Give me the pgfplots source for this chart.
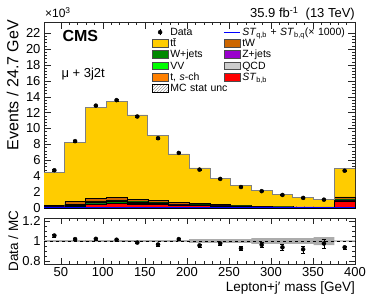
\documentclass[border=0pt]{standalone}
\usepackage{fontspec}
\setmainfont{Liberation Sans}
\usepackage{pgfplots}
\pgfplotsset{compat=1.18}
\usepackage{pgfplotstable}
\usepgfplotslibrary{fillbetween}
\usetikzlibrary{patterns}

\definecolor{ttc}{RGB}{255,204,0}
\definecolor{wjc}{RGB}{0,136,0}
\definecolor{vvc}{RGB}{0,255,0}
\definecolor{tsc}{RGB}{255,128,0}
\definecolor{twc}{RGB}{204,102,0}
\definecolor{zjc}{RGB}{153,0,204}
\definecolor{qcdc}{RGB}{204,204,204}
\definecolor{stbc}{RGB}{255,0,0}

% MC stack (thousands of events), bin left edges; last row repeats last bin
\pgfplotstableread{
x       stbb zj   wj   vv   ts    tw   tt     sig
30.000  0.10 0.03 0.05 0.01 0.01  0.15 4.15   0.04
54.667  0.25 0.05 0.15 0.03 0.03  0.30 7.44   0.06
79.333  0.45 0.06 0.25 0.05 0.04  0.40 11.35  0.08
104.000 0.55 0.06 0.28 0.05 0.04  0.35 12.07  0.08
128.667 0.50 0.05 0.20 0.04 0.03  0.30 10.58  0.07
153.333 0.45 0.04 0.18 0.03 0.03  0.25 8.12   0.06
178.000 0.35 0.03 0.10 0.02 0.02  0.20 6.08   0.05
202.667 0.30 0.03 0.08 0.02 0.02  0.15 4.45   0.04
227.333 0.25 0.02 0.05 0.01 0.01  0.12 3.29   0.03
252.000 0.20 0.02 0.04 0.01 0.01  0.08 2.49   0.03
276.667 0.12 0.02 0.03 0.01 0.01  0.06 1.95   0.02
301.333 0.10 0.01 0.03 0.01 0.01  0.05 1.54   0.02
326.000 0.08 0.01 0.02 0.01 0.005 0.04 1.215  0.02
350.667 0.06 0.01 0.02 0.01 0.005 0.03 0.945  0.01
375.333 0.85 0.05 0.12 0.02 0.02  0.35 3.59   0.05
400.000 0.85 0.05 0.12 0.02 0.02  0.35 3.59   0.05
}\mc

% total MC and stat band in ratio
\pgfplotstableread{
x       tot   lo    hi
30.000  4.50  0.992 1.008
54.667  8.25  0.992 1.008
79.333  12.60 0.992 1.008
104.000 13.40 0.992 1.008
128.667 11.70 0.992 1.008
153.333 9.10  0.992 1.008
178.000 6.80  0.992 1.008
202.667 5.05  0.982 1.018
227.333 3.75  0.982 1.018
252.000 2.85  0.982 1.018
276.667 2.20  0.972 1.028
301.333 1.75  0.972 1.028
326.000 1.38  0.972 1.028
350.667 1.08  0.960 1.040
375.333 5.00  0.994 1.006
400.000 5.00  0.994 1.006
}\tot

% data at bin centres
\pgfplotstableread{
x      d     de    r     re
42.33  4.75  0.07  1.055 0.012
67.00  8.41  0.09  1.019 0.012
91.67  12.88 0.11  1.022 0.010
116.33 13.57 0.12  1.013 0.010
141.00 11.51 0.11  0.984 0.010
165.67 8.78  0.09  0.965 0.012
190.33 6.93  0.08  1.019 0.013
215.00 4.83  0.07  0.956 0.015
239.67 3.66  0.06  0.975 0.017
264.33 2.64  0.05  0.927 0.020
289.00 2.12  0.05  0.962 0.024
313.67 1.64  0.04  0.937 0.030
338.33 1.27  0.04  0.917 0.035
363.00 1.05  0.03  0.975 0.045
387.67 4.69  0.07  0.937 0.015
}\dat

\begin{document}
\begin{tikzpicture}
\pgfplotsset{
  /pgf/number format/assume math mode=true,
  common/.style={
    width=311bp, scale only axis, xmin=30, xmax=400,
    tick align=inside, xtick pos=both, ytick pos=both,
    xtick={50,100,...,400}, minor x tick num=4,
    major tick length=7bp, minor tick length=3.5bp,
    tick label style={font=\fontsize{13bp}{15bp}\selectfont},
    label style={font=\fontsize{13.5bp}{15bp}\selectfont},
    axis line style={black!85}, every tick/.style={black!85},
  },
  boxleg/.style={legend image code/.code={\draw[##1] (0bp,-3.3bp) rectangle (16bp,4.4bp);}},
}
\begin{axis}[common, name=main, height=186bp, clip=false,
  ymin=0, ymax=23.4, ytick={0,2,...,22}, minor y tick num=4,
  xticklabels={}, stack plots=y,
  legend columns=2, legend cell align=left,
  legend style={at={(axis description cs:0.347,0.978)}, anchor=north west, draw=none, fill=none,
    inner sep=0pt, outer sep=0pt, row sep=-1.5bp, column sep=0pt,
    font=\fontsize{10.5bp}{12bp}\selectfont,
    /tikz/column 2/.style={text width=51bp, text height=7.3bp, text depth=1.7bp},
    /tikz/column 4/.style={text width=90bp, text height=7.3bp, text depth=1.7bp}},
]
\addplot[const plot mark left, fill=stbc, draw=black, line width=0.3bp, forget plot] table[x=x,y=stbb]{\mc} \closedcycle;
\addplot[const plot mark left, fill=zjc, draw=black, line width=0.3bp, forget plot] table[x=x,y=zj]{\mc} \closedcycle;
\addplot[const plot mark left, fill=wjc, draw=black, line width=0.3bp, forget plot] table[x=x,y=wj]{\mc} \closedcycle;
\addplot[const plot mark left, fill=vvc, draw=black, line width=0.3bp, forget plot] table[x=x,y=vv]{\mc} \closedcycle;
\addplot[const plot mark left, fill=tsc, draw=black, line width=0.3bp, forget plot] table[x=x,y=ts]{\mc} \closedcycle;
\addplot[const plot mark left, fill=twc, draw=black, line width=0.3bp, forget plot] table[x=x,y=tw]{\mc} \closedcycle;
\addplot[const plot mark left, fill=ttc, draw=none, forget plot] table[x=x,y=tt]{\mc} \closedcycle;

\addlegendimage{legend image code/.code={\fill[black] (8bp,0.3bp) circle (2bp); \draw[black] (8bp,-3bp)--(8bp,3.6bp);}}
\addlegendentry{Data}
\addlegendimage{legend image code/.code={\draw[blue, line width=1bp] (0bp,0.3bp)--(16bp,0.3bp);}}
\addlegendentry{\mbox{\textit{ST}\textsubscript{q,b} + \textit{ST}\textsubscript{b,q}(× 1000)}}
\addlegendimage{boxleg, fill=ttc, draw=black!70}
\addlegendentry{t\={t}}
\addlegendimage{boxleg, fill=twc, draw=black!70}
\addlegendentry{tW}
\addlegendimage{boxleg, fill=wjc, draw=black!70}
\addlegendentry{W+jets}
\addlegendimage{boxleg, fill=zjc, draw=black!70}
\addlegendentry{Z+jets}
\addlegendimage{boxleg, fill=vvc, draw=black!70}
\addlegendentry{VV}
\addlegendimage{boxleg, fill=qcdc, draw=black!70}
\addlegendentry{QCD}
\addlegendimage{boxleg, fill=tsc, draw=black!70}
\addlegendentry{t, \textit{s}-ch}
\addlegendimage{boxleg, fill=stbc, draw=black!70}
\addlegendentry{\textit{ST}\textsubscript{b,b}}
\addlegendimage{boxleg, pattern=north east lines, pattern color=gray, draw=none}
\addlegendentry{\mbox{MC stat unc}}

\node[anchor=base west, font=\bfseries\fontsize{16bp}{18bp}\selectfont] at (axis description cs:0.0482,0.894) {CMS};
\node[anchor=base west, font=\fontsize{13bp}{15bp}\selectfont] at (axis description cs:0.045,0.700) {μ + 3j2t};
\node[anchor=base west, font=\fontsize{12bp}{14bp}\selectfont, inner sep=0pt] at (axis description cs:0.003,1.022) {×10\textsuperscript{3}};
\node[anchor=base east, font=\fontsize{13bp}{15bp}\selectfont, inner sep=0pt] at (axis description cs:1,1.022) {35.9 fb\textsuperscript{-1}\ \ (13 TeV)};
\node[rotate=90, anchor=base east, inner sep=0pt, font=\fontsize{16bp}{18bp}\selectfont] at (axis description cs:-0.082,1.011) {Events / 24.7 GeV};
\end{axis}

\begin{axis}[common, at={(main.south west)}, anchor=south west, height=186bp,
  ymin=0, ymax=23.4, hide axis]
\addplot[const plot mark left, gray, line width=0.7bp] table[x=x,y=tot]{\tot};
\addplot[const plot mark left, blue, line width=1bp] table[x=x,y=sig]{\mc};
\addplot[only marks, mark=*, mark size=2bp, black, error bars/.cd, y dir=both, y explicit]
  table[x=x,y=d,y error=de]{\dat};
\end{axis}

\begin{axis}[common, name=ratio, at={(main.south west)}, anchor=north west, yshift=-10bp,
  height=46bp, ymin=0.77, ymax=1.23, ytick={0.8,1,1.2},
  minor ytick={0.85,0.9,0.95,1.05,1.1,1.15},
  major tick length=6bp, minor tick length=3bp, clip=false,
  xlabel={Lepton+j′ mass [GeV]},
  xlabel style={at={(axis description cs:1,-0.39)}, anchor=north east, inner sep=0pt},
]
\addplot[name path=up, const plot mark left, draw=none, forget plot] table[x=x,y=hi]{\tot};
\addplot[name path=dn, const plot mark left, draw=none, forget plot] table[x=x,y=lo]{\tot};
\addplot[fill=gray!65, draw=none, forget plot] fill between[of=up and dn];
\addplot[dashed, black, line width=0.5bp] coordinates {(30,1) (400,1)};
\addplot[only marks, mark=*, mark size=2bp, black, error bars/.cd, y dir=both, y explicit]
  table[x=x,y=r,y error=re]{\dat};
\node[rotate=90, anchor=base, inner sep=0pt, font=\fontsize{13.5bp}{15bp}\selectfont] at (axis description cs:-0.083,0.5) {Data / MC};
\end{axis}

\pgfresetboundingbox
\path ([shift={(-44bp,22bp)}]main.north west) rectangle ([shift={(19bp,-43bp)}]ratio.south east);
\end{tikzpicture}
\end{document}
